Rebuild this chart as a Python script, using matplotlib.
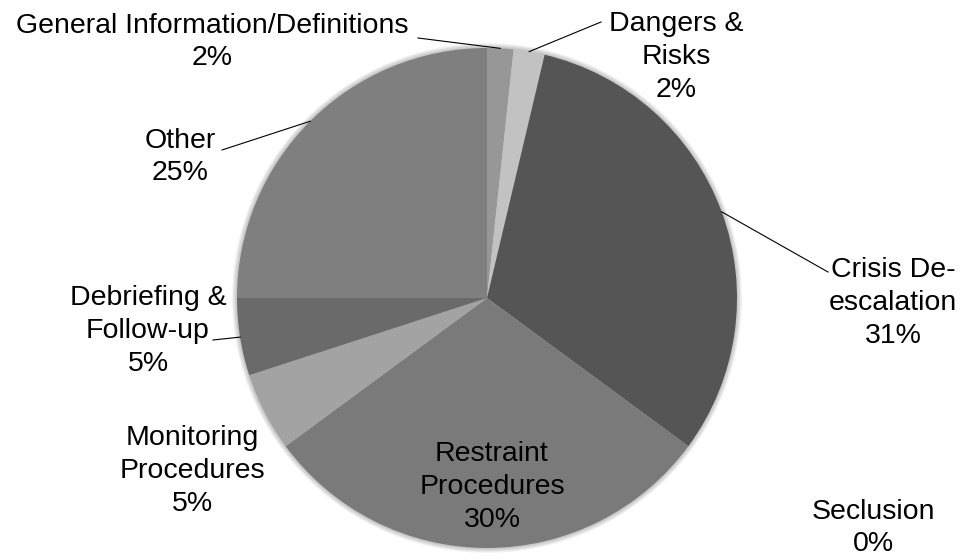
import numpy as np
import matplotlib.pyplot as plt
from matplotlib.patches import Circle

plt.rcParams['font.family'] = ['Liberation Sans', 'DejaVu Sans']

labels = ['General Information/Definitions', 'Dangers &\nRisks', 'Crisis De-\nescalation',
          'Restraint\nProcedures', 'Seclusion', 'Monitoring\nProcedures',
          'Debriefing &\nFollow-up', 'Other']
values = [1.7, 2.0, 31.4, 29.8, 0.0, 5.1, 5.0, 25.0]
shown_pct = ['2%', '2%', '31%', '30%', '0%', '5%', '5%', '25%']
colors = ['#979797', '#c2c2c2', '#555555', '#7a7a7a', '#8a8a8a', '#a3a3a3', '#6a6a6a', '#7f7f7f']

# label centres (pixel coords, y down) and end of leader line on the text side
label_pos = [(212, 42), (676, 57), (893, 303), (492, 487), (873, 528), (192, 471), (148, 331), (180, 157)]
line_start = [(418, 38), (601, 22), (828, 272), None, None, None, (213, 340), (222, 150)]

W, H = 969, 560
fig = plt.figure(figsize=(W / 100, H / 100), dpi=100)
ax = fig.add_axes([0, 0, 1, 1])
ax.set_xlim(0, W)
ax.set_ylim(0, H)
ax.set_aspect('equal')
ax.axis('off')

cx, cy, r = 487, H - 298, 250

# soft shadow around the pie
for k in range(6):
    ax.add_patch(Circle((cx, cy), r + 1 + k * 0.8, color='#000000', alpha=0.04, lw=0, zorder=0))

wedges, _ = ax.pie(values, colors=colors, startangle=90, counterclock=False,
                   center=(cx, cy), radius=r, wedgeprops=dict(linewidth=0))
ax.set_xlim(0, W)
ax.set_ylim(0, H)

total = sum(values)
cum = 0
for i, v in enumerate(values):
    mid = (cum + v / 2) / total * 360
    cum += v
    lx, ly = label_pos[i]
    ax.text(lx, H - ly, labels[i] + '\n' + shown_pct[i], ha='center', va='center',
            fontsize=20.5, linespacing=1.33, zorder=5)
    if line_start[i] is not None:
        ang = np.deg2rad(90 - mid)
        ex, ey = cx + r * np.cos(ang), cy + r * np.sin(ang)
        sx, sy = line_start[i]
        ax.plot([sx, ex], [H - sy, ey], color='black', lw=0.8, zorder=4)

fig.savefig('out.png', dpi=100)
